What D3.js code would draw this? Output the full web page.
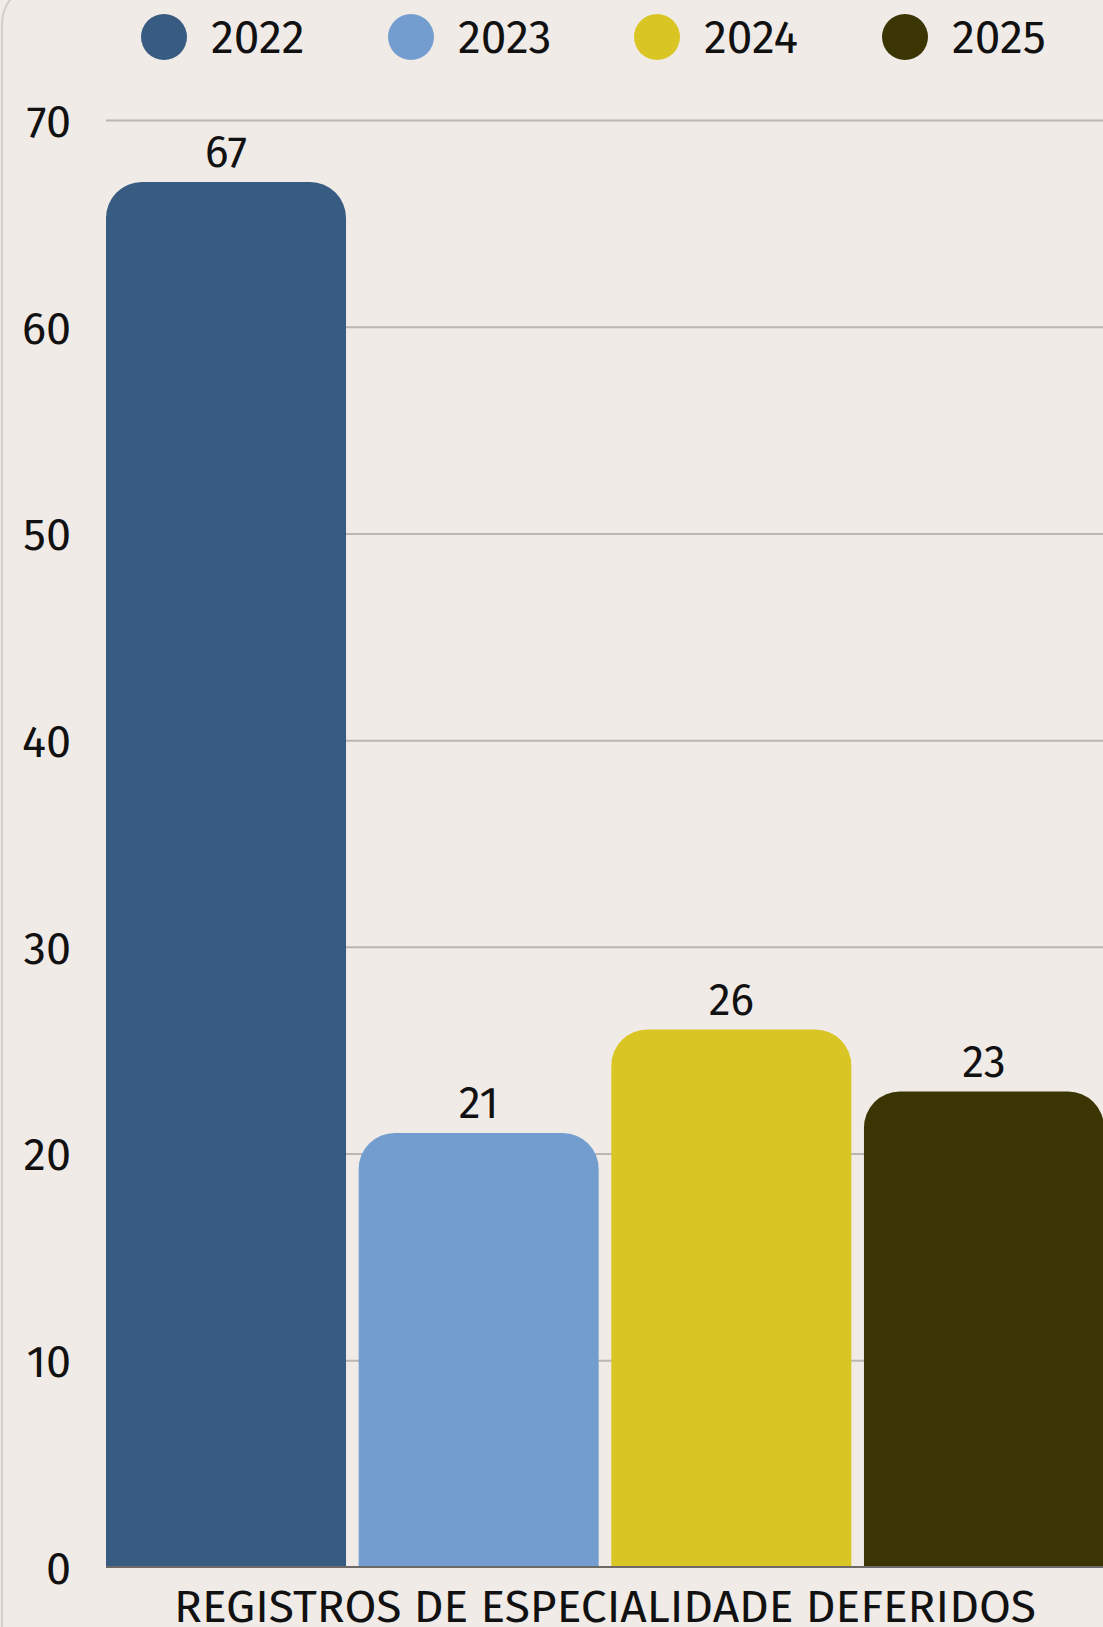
<!DOCTYPE html>
<html>
<head>
<meta charset="utf-8">
<script src="https://cdn.jsdelivr.net/npm/d3@7"></script>
<style>
  html, body { margin: 0; padding: 0; background: #f0ebe7; overflow: hidden; }
  svg { display: block; }
  text { font-family: "Fira Sans", "Lato", "Noto Sans", sans-serif; fill: #111; }
</style>
</head>
<body>
<svg id="chart" width="1103" height="1627"></svg>
<script>
const categories = ["REGISTROS DE ESPECIALIDADE DEFERIDOS"];
const years = ["2022", "2023", "2024", "2025"];
const values = [67, 21, 26, 23];
const colors = ["#385b82", "#749dcf", "#d9c625", "#3b3504"];
const yTicks = [0, 10, 20, 30, 40, 50, 60, 70];

const W = 1103, H = 1627;
const svg = d3.select("#chart");

// card border (left edge, rounded top-left corner)
svg.append("path")
  .attr("d", "M2," + H + " L2,24 A40,40 0 0 1 42,-16 L" + W + ",-16")
  .attr("fill", "none").attr("stroke", "#d3cec9").attr("stroke-width", 2);

const y = d3.scaleLinear().domain([0, 70]).range([1567, 120]);
const x0 = d3.scaleBand().domain(categories).range([106, 1104]).padding(0);
const x1 = d3.scaleBand().domain(years).range([0, x0.bandwidth()]).paddingInner(0.05).paddingOuter(0);

// gridlines
const grid = d3.axisLeft(y).tickValues(yTicks.filter(d => d > 0)).tickSize(-(W - 106)).tickFormat("");
svg.append("g").attr("transform", "translate(106,0)").call(grid)
  .call(g => g.select(".domain").remove())
  .call(g => g.selectAll("line").attr("stroke", "#bab6b1").attr("stroke-width", 2));

// y tick labels
const yAxis = d3.axisLeft(y).tickValues(yTicks).tickSize(0).tickPadding(0).tickFormat(d3.format("d"));
svg.append("g").attr("transform", "translate(71,2)").call(yAxis)
  .call(g => g.select(".domain").remove())
  .call(g => g.selectAll("text").attr("font-size", 45).attr("fill", "#111")
    .attr("font-family", '"Fira Sans", "Lato", "Noto Sans", sans-serif'));

// zero baseline
svg.append("line").attr("x1", 106).attr("x2", W).attr("y1", y(0)).attr("y2", y(0))
  .attr("stroke", "#6d6966").attr("stroke-width", 2);

function topRounded(x, yTop, w, yBot, r) {
  r = Math.min(r, w / 2, yBot - yTop);
  return `M${x},${yBot} L${x},${yTop + r} A${r},${r} 0 0 1 ${x + r},${yTop} L${x + w - r},${yTop} A${r},${r} 0 0 1 ${x + w},${yTop + r} L${x + w},${yBot} Z`;
}

const data = years.map((yr, i) => ({ year: yr, value: values[i], color: colors[i], cat: categories[0] }));

const g = svg.append("g");
g.selectAll("path.bar").data(data).enter().append("path")
  .attr("class", "bar")
  .attr("d", d => topRounded(x0(d.cat) + x1(d.year), y(d.value), x1.bandwidth(), y(0) - 1, 36))
  .attr("fill", d => d.color);

g.selectAll("text.val").data(data).enter().append("text")
  .attr("class", "val")
  .attr("x", d => x0(d.cat) + x1(d.year) + x1.bandwidth() / 2)
  .attr("y", d => y(d.value) - 15)
  .attr("text-anchor", "middle")
  .attr("font-size", 44)
  .text(d => d.value);

// x axis category label
const xAxis = d3.axisBottom(x0).tickSize(0).tickPadding(0);
svg.append("g").attr("transform", "translate(0,1622)").call(xAxis)
  .call(g => g.select(".domain").remove())
  .call(g => g.selectAll("text").attr("dy", 0).attr("font-size", 44).attr("fill", "#111")
    .attr("font-family", '"Fira Sans", "Lato", "Noto Sans", sans-serif')
    .attr("textLength", 862).attr("lengthAdjust", "spacingAndGlyphs"));

// legend
const legendX = [164, 411, 657, 905];
const lg = svg.append("g");
const items = lg.selectAll("g").data(data).enter().append("g")
  .attr("transform", (d, i) => `translate(${legendX[i]},37)`);
items.append("circle").attr("r", 23).attr("fill", d => d.color);
items.append("text").attr("x", 47).attr("y", 16).attr("font-size", 46).text(d => d.year);
</script>
</body>
</html>
